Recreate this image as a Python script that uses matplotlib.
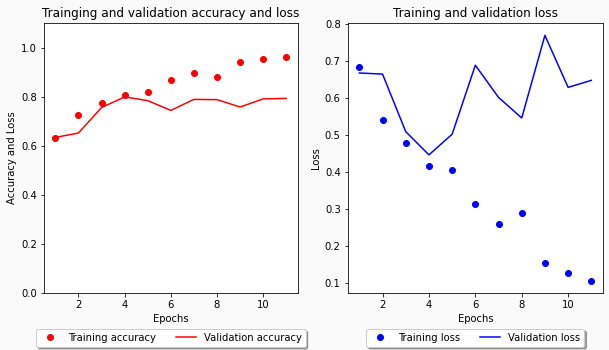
import numpy as np
from matplotlib import pyplot as plt

# values
epochs = list(range(1, 12))
train_acc = [0.633, 0.727, 0.774, 0.807, 0.819, 0.868, 0.897, 0.880, 0.941, 0.954, 0.962]
val_acc = [0.634, 0.652, 0.756, 0.799, 0.784, 0.744, 0.789, 0.788, 0.758, 0.791, 0.793]
train_loss = [0.685, 0.540, 0.478, 0.416, 0.405, 0.313, 0.259, 0.289, 0.154, 0.127, 0.105]
val_loss = [0.668, 0.665, 0.509, 0.446, 0.502, 0.689, 0.602, 0.546, 0.770, 0.629, 0.648]

fig = plt.figure(figsize=(609 / 72, 350 / 72), dpi=72, facecolor="#fafafa")

# accuracy panel
ax1 = fig.add_axes([0.072, 0.163, 0.417, 0.771])
ax1.plot(epochs, train_acc, "ro", label="Training accuracy")
ax1.plot(epochs, val_acc, "r", label="Validation accuracy")
ax1.set_ylim(0, 1.1)
ax1.set_title("Trainging and validation accuracy and loss")
ax1.set_xlabel("Epochs")
ax1.set_ylabel("Accuracy and Loss")
ax1.legend(loc="upper center", bbox_to_anchor=(0.5, -0.115), ncol=2, shadow=True)

# loss panel
ax2 = fig.add_axes([0.571, 0.163, 0.419, 0.771])
ax2.plot(epochs, train_loss, "bo", label="Training loss")
ax2.plot(epochs, val_loss, "b", label="Validation loss")
ax2.set_title("Training and validation loss")
ax2.set_xlabel("Epochs")
ax2.set_ylabel("Loss")
ax2.legend(loc="upper center", bbox_to_anchor=(0.5, -0.115), ncol=2, shadow=True)

fig.savefig("out.png", dpi=72, facecolor=fig.get_facecolor())
